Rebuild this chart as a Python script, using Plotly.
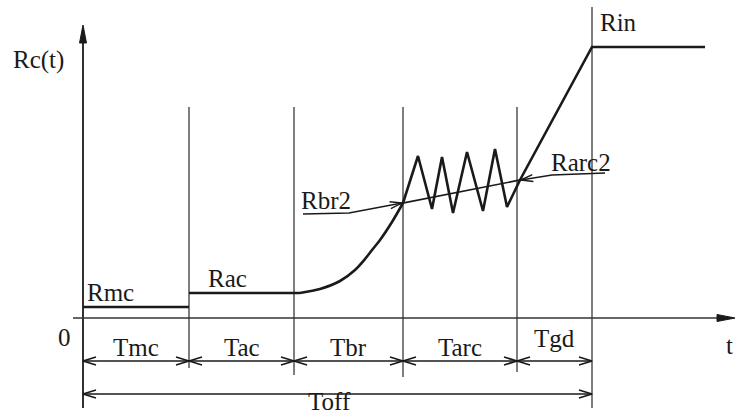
import math
import plotly.graph_objects as go

# ---- data (time units along t, resistance units along Rc) ----
phase_names = ["Tmc", "Tac", "Tbr", "Tarc", "Tgd"]
phase_bounds = [0, 106, 211, 320, 434, 509]
R_mc = 11
R_ac = 25
R_in = 271
t_ac_end = 217
t_rbr2, R_br2 = 320, 115
t_rarc2, R_arc2 = 437, 138

# rising "break" curve from end of Rac to Rbr2
t_curve = [217, 237, 257, 272, 282, 289, 297, 309, 320]
r_curve = [25, 29, 37, 48, 59, 68, 78, 96, 115]

# arcing oscillation then rise to Rin
t_osc = [320, 335, 349, 359, 370, 384, 400, 412, 424, 437, 509, 622]
r_osc = [115, 162, 109, 161, 105, 166, 107, 169, 111, 138, 271, 271]

X_RANGE = [-83, 653]
Y_RANGE = [-100, 318]
FONT = "Liberation Serif, Times New Roman, serif"
INK = "#1a1a1a"
GRID = "#707070"

fig = go.Figure()


def line(xs, ys, color=INK, width=2.4, shape="linear"):
    fig.add_trace(go.Scatter(x=xs, y=ys, mode="lines", hoverinfo="skip",
                             line=dict(color=color, width=width, shape=shape)))


def open_head(tx, ty, fx, fy, length=13, half=4.0, width=1.8):
    """Open V arrowhead at (tx,ty) pointing away from (fx,fy)."""
    dx, dy = tx - fx, ty - fy
    n = math.hypot(dx, dy)
    ux, uy = dx / n, dy / n
    px, py = -uy, ux
    bx, by = tx - ux * length, ty - uy * length
    line([bx + px * half, tx, bx - px * half], [by + py * half, ty, by - py * half], width=width)


def filled_head(tx, ty, fx, fy, length=18, half=3.5):
    dx, dy = tx - fx, ty - fy
    n = math.hypot(dx, dy)
    ux, uy = dx / n, dy / n
    px, py = -uy, ux
    bx, by = tx - ux * length, ty - uy * length
    fig.add_trace(go.Scatter(x=[bx + px * half, tx, bx - px * half, bx + px * half],
                             y=[by + py * half, ty, by - py * half, by + py * half],
                             mode="lines", fill="toself", fillcolor=INK,
                             line=dict(color=INK, width=1), hoverinfo="skip"))


shapes = []
# vertical boundary lines
v_bottom = [-50, -57, -59, -54]
for i, b in enumerate(phase_bounds[1:-1]):
    shapes.append(dict(type="line", xref="x", yref="y", x0=b, x1=b, y0=211, y1=v_bottom[i],
                       line=dict(color=GRID, width=1.8), layer="below"))
shapes.append(dict(type="line", xref="x", yref="y", x0=phase_bounds[-1], x1=phase_bounds[-1],
                   y0=311, y1=-90, line=dict(color=GRID, width=1.8), layer="below"))
fig.update_layout(shapes=shapes)

# axes
line([0, 0], [-90, 290], width=1.8)
line([-10, 648], [0, 0], width=1.6, color="#333333")
filled_head(0, 293, 0, 0)
filled_head(652, 0, 0, 0)

# levels and curve
line([phase_bounds[0], phase_bounds[1]], [R_mc, R_mc], width=2.6)
line([phase_bounds[1], t_ac_end], [R_ac, R_ac], width=2.6)
fig.add_trace(go.Scatter(x=t_curve, y=r_curve, mode="lines", hoverinfo="skip",
                         line=dict(color=INK, width=2.6, shape="spline", smoothing=0.8)))
line(t_osc, r_osc, width=2.6)
# Rbr2 - Rarc2 straight line
line([t_rbr2 - 3, t_rarc2 + 3], [R_br2 - 0.6, R_arc2 + 0.6], width=1.6)

# dimension arrows
dim_y = -43
for a, b in zip(phase_bounds[:-1], phase_bounds[1:]):
    line([a, b], [dim_y, dim_y], width=1.6)
    open_head(a, dim_y, b, dim_y)
    open_head(b, dim_y, a, dim_y)
toff_y = -76
line([phase_bounds[0], phase_bounds[-1]], [toff_y, toff_y], width=1.6)
open_head(phase_bounds[0], toff_y, phase_bounds[-1], toff_y)
open_head(phase_bounds[-1], toff_y, phase_bounds[0], toff_y)

# leaders with underlines
line([220, 266, t_rbr2 - 1], [104, 105, R_br2], width=1.4)
open_head(t_rbr2 - 1, R_br2, 266, 105, length=12, half=3.5, width=1.4)
line([522, 469, t_rarc2 + 1], [145, 143, R_arc2], width=1.4)
open_head(t_rarc2 + 1, R_arc2, 469, 143, length=12, half=3.5, width=1.4)

annotations = []


def label(txt, x, y, size=25):
    annotations.append(dict(x=x, y=y, xref="x", yref="y", text=txt, showarrow=False,
                            font=dict(family=FONT, size=size, color=INK),
                            xanchor="center", yanchor="middle"))


label("Rc(t)", -45, 258)
label("Rmc", 27, 26)
label("Rac", 144, 40)
label("Rbr2", 243, 118)
label("Rarc2", 498, 156)
label("Rin", 535, 296)
label("0", -19, -19)
label("t", 646, -27)
mid_x = [(a + b) / 2 for a, b in zip(phase_bounds[:-1], phase_bounds[1:])]
dim_label_y = [-29, -29, -29, -29, -20]
for name, mx, ly in zip(phase_names, mid_x, dim_label_y):
    label(name, mx, ly)
label("Toff", (phase_bounds[0] + phase_bounds[-1]) / 2 - 8, -83)

fig.update_layout(
    width=736, height=418, autosize=False,
    margin=dict(l=0, r=0, t=0, b=0),
    paper_bgcolor="white", plot_bgcolor="white",
    showlegend=False,
    xaxis=dict(range=X_RANGE, visible=False, fixedrange=True),
    yaxis=dict(range=Y_RANGE, visible=False, fixedrange=True),
    annotations=annotations,
)

fig.write_html("out.html")
